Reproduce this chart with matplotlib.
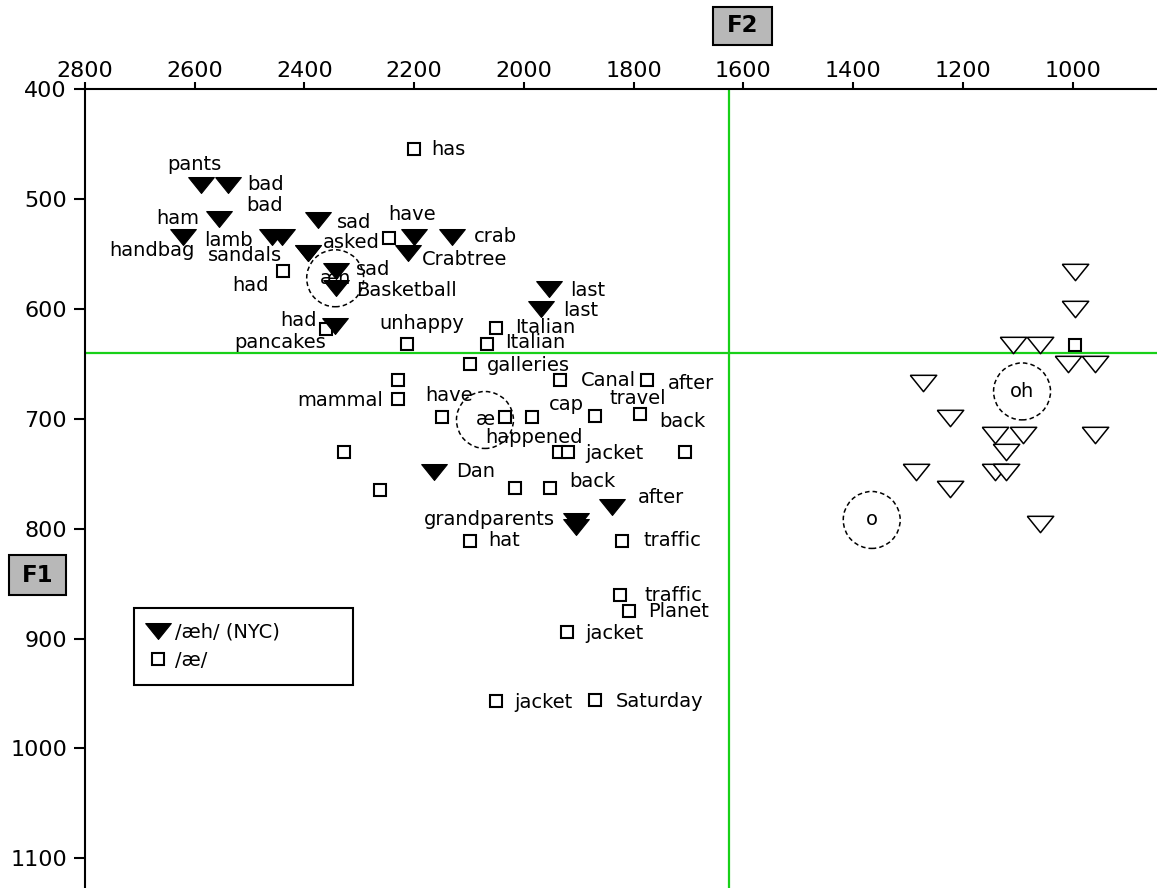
import matplotlib
matplotlib.use("Agg")
import matplotlib.pyplot as plt
from matplotlib.patches import Rectangle

plt.rcParams['font.family'] = ['DejaVu Sans']

# /aeh/ (NYC) tokens -> filled triangles
aeh_f2 = [2588, 2540, 2555, 2459, 2441, 2622, 2394, 2394, 2376, 2200, 2131,
          2212, 2343, 2343, 2344, 1954, 1968, 2164, 1905, 1905, 1840]
aeh_f1 = [487, 487, 518, 534, 534, 534, 549, 549, 519, 534, 534,
          549, 565, 581, 615, 582, 600, 748, 793, 798, 780]
aeh_words = ["pants", "bad", "ham", "lamb", "bad", "handbag", "sandals", "asked", "sad", "", "crab",
             "Crabtree", "sad", "Basketball", "had", "last", "last", "Dan", "grandparents", "", "after"]

# /ae/ tokens -> open squares
ae_f2 = [2200, 2440, 2245, 2360, 2213, 2050, 2067, 2099, 2230, 2230, 2149,
         2035, 1986, 1871, 1789, 1935, 1775, 1936, 1920, 1706, 2327, 2262,
         2016, 1953, 2098, 1822, 1824, 1809, 1922, 2051, 1870, 996]
ae_f1 = [454, 565, 535, 618, 632, 617, 632, 650, 665, 682, 698,
         698, 698, 697, 696, 665, 665, 730, 730, 730, 730, 765,
         763, 763, 811, 811, 860, 875, 894, 957, 956, 633]
ae_words = ["has", "had", "have", "pancakes", "unhappy", "Italian", "Italian", "galleries", "", "mammal", "have",
            "", "happened", "cap", "travel", "Canal", "after", "", "jacket", "back", "", "",
            "", "back", "hat", "traffic", "traffic", "Planet", "jacket", "jacket", "Saturday", ""]

# other vowels -> open triangles
other_f2 = [996, 996, 1109, 1060, 1008, 959, 1273, 1223, 1141, 1091, 959, 1122, 1141, 1121, 1286, 1223, 1060]
other_f1 = [566, 600, 633, 633, 650, 650, 667, 699, 715, 715, 715, 730, 748, 748, 748, 764, 796]

# vowel means (dashed circles)
mean_f2 = [2344, 2071, 1092, 1366]
mean_f1 = [572, 701, 675, 792]
mean_labels = ["æh", "æ", "oh", "o"]

ref_f2 = 1627
ref_f1 = 640

xticks = [2800, 2600, 2400, 2200, 2000, 1800, 1600, 1400, 1200, 1000]
yticks = [400, 500, 600, 700, 800, 900, 1000, 1100]

# label offsets (pixels, dy up)
aeh_off = [(-7, 20.5), (37.5, 0), (-42, 0), (-43.5, -3.5), (-17, 31.5), (-31, -13.5), (-62.5, -2.5),
           (43.5, 10.5), (37, -2.5), (0, 0), (43, 0), (56.5, -6.5), (37, 1), (71, -2), (-36.5, 5),
           (38.5, -1.5), (39, -1.5), (42, 0), (-87, 2), (0, 0), (49.5, 9)]
ae_off = [(34.5, -1), (-32, -14.5), (23, 23), (-46.5, -14), (14.5, 20.5), (48.5, 0.5), (48, 2),
          (59, -1.5), (0, 0), (-57.5, -1), (7, 21.5), (0, 0), (2.5, -20.5), (-28, 11), (-2, 15.5),
          (48.5, -0.5), (43.5, -3.5), (0, 0), (47, -1.5), (-2.5, 30.5), (0, 0), (0, 0), (0, 0),
          (43, 7), (33.5, 0), (51, 0), (53, -1), (50, 0), (47.5, -1), (48, -1), (64.5, -1.5), (0, 0)]

tri = [(-1, 0.62), (1, 0.62), (0, -0.62), (-1, 0.62)]
green = "#18d018"
fs = 14

fig = plt.figure(figsize=(11.57, 8.88), dpi=100)
ax = fig.add_axes([85 / 1157, 0, 1 - 85 / 1157, 1 - 89.3 / 888])

ax.axvline(ref_f2, color=green, lw=1.6, zorder=1)
ax.axhline(ref_f1, color=green, lw=1.6, zorder=1)

ax.scatter(mean_f2, mean_f1, s=(41) ** 2, facecolors="none", edgecolors="black",
           linewidths=1.1, linestyles=[(0, (3, 2))], zorder=2)
for x, y, t in zip(mean_f2, mean_f1, mean_labels):
    ax.text(x, y, t, fontsize=fs, ha="center", va="center", zorder=2)

ax.plot(other_f2, other_f1, linestyle="none", marker=tri, ms=19, mfc="white", mec="black", mew=1.1, zorder=3)
ax.plot(ae_f2, ae_f1, linestyle="none", marker="s", ms=9.2, mfc="white", mec="black", mew=1.5,
        zorder=3, label="/æ/")
ax.plot(aeh_f2, aeh_f1, linestyle="none", marker=tri, ms=18.5, mfc="black", mec="black", mew=0.8,
        zorder=3, label="/æh/ (NYC)")

for x, y, w, o in zip(aeh_f2, aeh_f1, aeh_words, aeh_off):
    if w:
        ax.annotate(w, (x, y), xytext=o, textcoords="offset pixels", fontsize=fs,
                    ha="center", va="center", zorder=4)
for x, y, w, o in zip(ae_f2, ae_f1, ae_words, ae_off):
    if w:
        ax.annotate(w, (x, y), xytext=o, textcoords="offset pixels", fontsize=fs,
                    ha="center", va="center", zorder=4)

ax.set_xlim(2800, 846)
ax.set_ylim(1127, 400)
ax.xaxis.tick_top()
ax.set_xticks(xticks)
ax.set_yticks(yticks)
ax.tick_params(axis="x", direction="out", length=5, width=1.5, labelsize=16, pad=1)
ax.tick_params(axis="y", direction="out", length=8, width=1.5, labelsize=16, pad=5)
ax.spines["right"].set_visible(False)
ax.spines["bottom"].set_visible(False)
ax.spines["left"].set_linewidth(1.5)
ax.spines["top"].set_linewidth(1.5)

h, l = ax.get_legend_handles_labels()
leg = ax.legend(h[::-1], l[::-1], loc="upper left", mode="expand",
                bbox_to_anchor=(0.0457, 0.2517, 0.2043, 0.099), borderaxespad=0,
                fontsize=fs, frameon=True, fancybox=False, framealpha=1, edgecolor="black",
                borderpad=0.75, handlelength=0.95, handletextpad=0.4, labelspacing=0.5)
leg.get_frame().set_linewidth(1.5)

# axis name boxes
fig.patches.append(Rectangle((713 / 1157, 1 - 45 / 888), 59 / 1157, 38 / 888, transform=fig.transFigure,
                             facecolor="#b8b8b8", edgecolor="black", lw=1.5))
fig.text(742.5 / 1157, 1 - 26 / 888, "F2", fontsize=16.5, fontweight="bold", ha="center", va="center")
fig.patches.append(Rectangle((9 / 1157, 1 - 595 / 888), 57 / 1157, 40 / 888, transform=fig.transFigure,
                             facecolor="#b8b8b8", edgecolor="black", lw=1.5))
fig.text(37.5 / 1157, 1 - 575 / 888, "F1", fontsize=16.5, fontweight="bold", ha="center", va="center")

fig.savefig("out.png", dpi=100)
